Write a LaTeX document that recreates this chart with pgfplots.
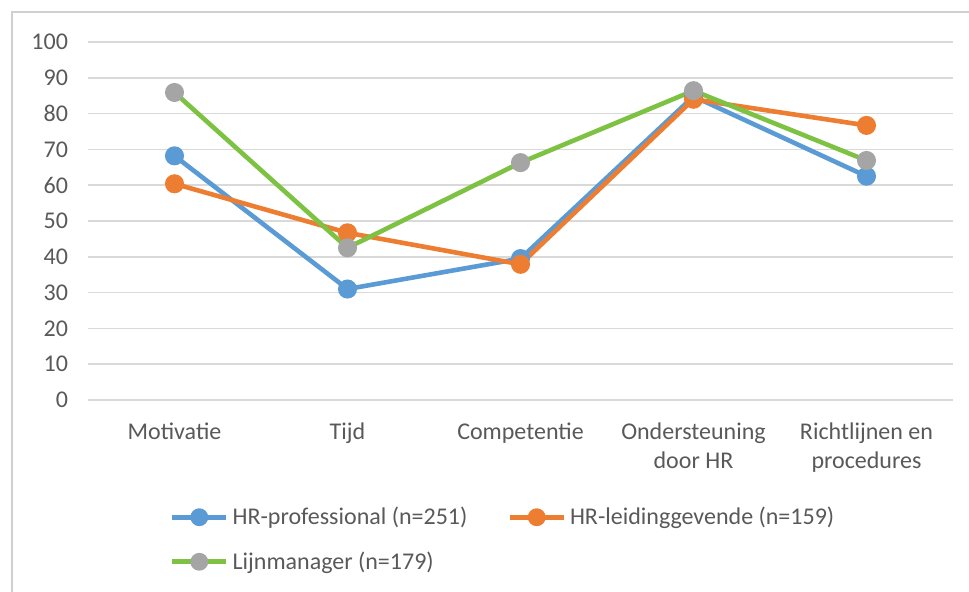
\documentclass[border=0pt]{standalone}
\usepackage{pgfplots}
\pgfplotsset{compat=1.18}
\usepackage{fontspec}
\setmainfont{Carlito}
\definecolor{hrblue}{HTML}{5B9BD5}
\definecolor{hrorange}{HTML}{ED7D31}
\definecolor{lmgreen}{HTML}{7DC242}
\definecolor{lmgray}{HTML}{A5A5A5}
\definecolor{gridgray}{HTML}{D9D9D9}
\definecolor{labelgray}{HTML}{595959}
\definecolor{framegray}{HTML}{D0D0D0}
\begin{document}
\begin{tikzpicture}
\useasboundingbox (-44pt,-96pt) rectangle (440.5pt,200pt);
\draw[line width=1pt, framegray] (-38pt,-96pt) -- (-38pt,194pt) -- (440.5pt,194pt);
\begin{axis}[
  at={(0,0)}, anchor=south west,
  scale only axis, width=432.5pt, height=179pt,
  xmin=-0.5, xmax=4.5, ymin=0, ymax=100,
  xtick={0,1,2,3,4},
  xticklabels={Motivatie, Tijd, Competentie, {Ondersteuning\\door HR}, {Richtlijnen en\\procedures}},
  ytick={0,10,...,100},
  ymajorgrids,
  major grid style={draw=gridgray, line width=0.75pt},
  axis line style={draw=none},
  tick style={draw=none},
  /pgf/number format/assume math mode=true,
  yticklabel style={font=\fontsize{12}{14.5}\selectfont, text=labelgray, xshift=-6.5pt},
  xticklabel style={font=\fontsize{12}{14.5}\selectfont, text=labelgray, align=center, yshift=-8pt},
  legend columns=2,
  legend cell align=left,
  legend style={draw=none, fill=none, at={(0.0948,-0.3897)}, anchor=west,
    inner sep=0pt, outer sep=0pt,
    font=\fontsize{12}{14.5}\selectfont, text=labelgray,
    /tikz/every even column/.append style={column sep=18pt},
    row sep=8pt},
  legend image code/.code={\draw[mark repeat=2, mark phase=2, #1, mark size=3.3pt] plot coordinates {(0pt,0pt) (13.5pt,0pt) (27pt,0pt)};},
  every axis plot/.append style={line width=2.3pt, mark=*, mark size=3.6pt},
]
\addplot[hrblue, mark options={fill=hrblue, draw=hrblue}] coordinates {(0,68.2) (1,31.0) (2,39.5) (3,84.8) (4,62.5)};
\addlegendentry{HR-professional (n=251)}
\addplot[hrorange, mark options={fill=hrorange, draw=hrorange}] coordinates {(0,60.4) (1,46.7) (2,37.9) (3,84.0) (4,76.7)};
\addlegendentry{HR-leidinggevende (n=159)}
\addplot[lmgreen, mark options={fill=lmgray, draw=lmgray}] coordinates {(0,85.9) (1,42.5) (2,66.3) (3,86.4) (4,66.9)};
\addlegendentry{Lijnmanager (n=179)}
\end{axis}
\end{tikzpicture}
\end{document}
